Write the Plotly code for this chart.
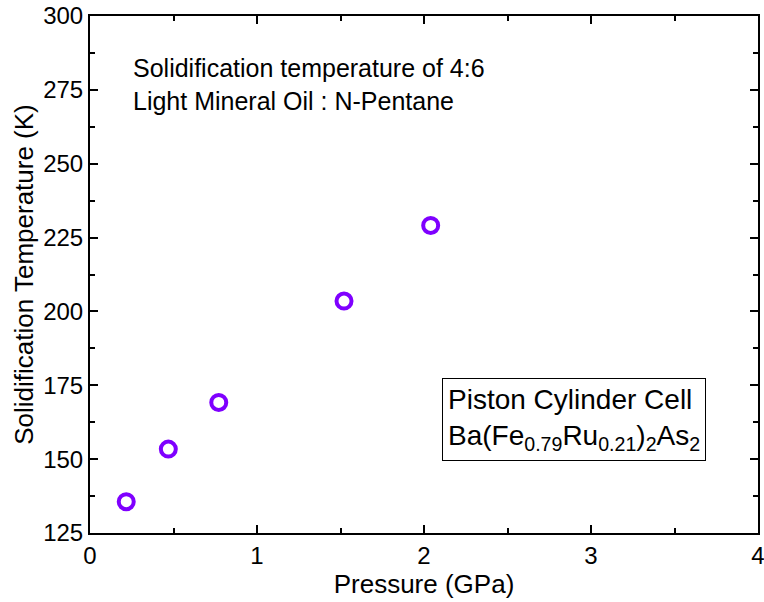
import plotly.graph_objects as go

pressure_gpa = [0.217, 0.469, 0.771, 1.521, 2.040]
solid_temp_k = [135.6, 153.4, 169.2, 203.5, 229.1]

x_tick_vals = [0, 1, 2, 3, 4]
y_tick_vals = [125, 150, 175, 200, 225, 250, 275, 300]

FONT = "Arial, Liberation Sans, sans-serif"

fig = go.Figure()
fig.add_trace(go.Scatter(
    x=pressure_gpa, y=solid_temp_k, mode="markers",
    marker=dict(symbol="circle-open", size=15, color="#7F00FF",
                line=dict(width=4, color="#7F00FF")),
    showlegend=False, cliponaxis=False,
))

axis_common = dict(
    showline=True, linecolor="black", linewidth=2, mirror="ticks",
    ticks="inside", ticklen=8, tickwidth=2, tickcolor="black",
    showgrid=False, zeroline=False, automargin=False,
    ticklabeloverflow="allow",
    tickfont=dict(family=FONT, size=24, color="black"),
)

fig.update_xaxes(range=[0, 4], tickvals=x_tick_vals,
                 minor=dict(dtick=0.5, ticks="inside", ticklen=5, tickwidth=2, tickcolor="black"),
                 title=dict(text="Pressure (GPa)", font=dict(family=FONT, size=26, color="black"), standoff=2),
                 **axis_common)
fig.update_yaxes(range=[125, 300], tickvals=y_tick_vals,
                 minor=dict(dtick=12.5, tick0=125, ticks="inside", ticklen=5, tickwidth=2, tickcolor="black"),
                 title=dict(text="Solidification Temperature (K)", font=dict(family=FONT, size=26, color="black"), standoff=2),
                 **axis_common)

fig.add_annotation(xref="paper", yref="paper", x=0.527, y=0.30, xanchor="left", yanchor="top",
                   text="Piston Cylinder Cell<br>Ba(Fe<sub>0.79</sub>Ru<sub>0.21</sub>)<sub>2</sub>As<sub>2</sub>",
                   showarrow=False, align="left",
                   bordercolor="black", borderwidth=1, borderpad=5,
                   font=dict(family=FONT, size=28, color="black"))

fig.add_annotation(xref="paper", yref="paper", x=0.062, y=0.93, xanchor="left", yanchor="top",
                   text="Solidification temperature of 4:6<br>Light Mineral Oil : N-Pentane",
                   showarrow=False, align="left",
                   font=dict(family=FONT, size=25, color="black"))

fig.update_layout(
    width=764, height=602,
    margin=dict(l=90, r=6, t=16, b=69, autoexpand=False),
    plot_bgcolor="white", paper_bgcolor="white",
    font=dict(family=FONT, color="black"),
)

fig.write_html("out.html",
               config={"displayModeBar": False},
               post_script="document.body.style.margin='0';document.body.style.overflow='hidden';")
